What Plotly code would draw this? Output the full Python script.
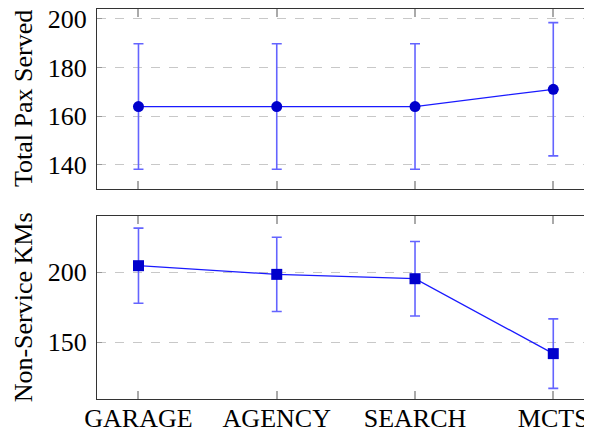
import plotly.graph_objects as go
from plotly.subplots import make_subplots

categories = ["GARAGE", "AGENCY", "SEARCH", "MCTS"]
pax_mean = [164.0, 164.0, 164.0, 171.1]
pax_err = [25.8, 25.8, 25.8, 27.4]
km_mean = [204.7, 198.5, 195.4, 141.9]
km_err = [26.8, 26.5, 26.6, 24.8]

# the page body has an 8px default margin, so the figure is laid out 8px smaller
W, H = 584, 427
L, R, T, B = 89, 0, 1, 36
PH = H - T - B

fig = make_subplots(rows=2, cols=1, shared_xaxes=True, vertical_spacing=0.068)

xs = list(range(len(categories)))
line_col = "#1a1aff"
mark_col = "#0000cc"
err_col = "#6464ff"

fig.add_trace(go.Scatter(
    x=xs, y=pax_mean, mode="lines+markers",
    line=dict(color=line_col, width=1.3),
    marker=dict(symbol="circle", size=11, color=mark_col),
    error_y=dict(type="data", array=pax_err, color=err_col, thickness=1.6, width=5),
    showlegend=False, cliponaxis=False), row=1, col=1)

fig.add_trace(go.Scatter(
    x=xs, y=km_mean, mode="lines+markers",
    line=dict(color=line_col, width=1.3),
    marker=dict(symbol="square", size=11, color=mark_col),
    error_y=dict(type="data", array=km_err, color=err_col, thickness=1.6, width=5),
    showlegend=False, cliponaxis=False), row=2, col=1)

font = dict(family="Liberation Serif, Times New Roman, serif", size=26, color="black")

xcommon = dict(range=[-0.3, 3.28], tickmode="array", tickvals=xs,
               showline=True, linecolor="#333333", linewidth=1.2, mirror="ticks",
               ticks="inside", ticklen=8, tickcolor="#aaaaaa", tickwidth=1.5,
               showgrid=False, zeroline=False, automargin=False)
fig.update_xaxes(**xcommon, row=1, col=1, ticktext=["" for _ in categories], showticklabels=False)
fig.update_xaxes(**xcommon, row=2, col=1, ticktext=categories, tickfont=font, ticklabelstandoff=-4)

ycommon = dict(showline=True, linecolor="#333333", linewidth=1.2, mirror="ticks",
               ticks="inside", ticklen=5, tickcolor="#999999", tickwidth=1,
               showgrid=True, gridcolor="#c8c8c8", griddash="dash", gridwidth=1,
               zeroline=False, tickfont=font, ticklabelstandoff=4, automargin=False,
               ticklabeloverflow="allow")
fig.update_yaxes(**ycommon, row=1, col=1, range=[130.1, 204.1], tickvals=[140, 160, 180, 200])
fig.update_yaxes(**ycommon, row=2, col=1, range=[109.5, 240.4], tickvals=[150, 200])

top_lo = (PH - 180) / PH
bot_hi = (PH - 206.7) / PH
fig.update_yaxes(domain=[top_lo, 1.0], row=1, col=1)
fig.update_yaxes(domain=[0.0, bot_hi], row=2, col=1)

plot_w = W - L - R
tx = (15 - L) / plot_w
fig.add_annotation(text="Total Pax Served", xref="paper", yref="paper",
                   x=tx, y=(1.0 + top_lo) / 2, textangle=-90, showarrow=False,
                   xanchor="center", yanchor="middle", font=font)
fig.add_annotation(text="Non-Service KMs", xref="paper", yref="paper",
                   x=tx, y=bot_hi / 2, textangle=-90, showarrow=False,
                   xanchor="center", yanchor="middle", font=font)

fig.update_layout(width=W, height=H, margin=dict(l=L, r=R, t=T, b=B, autoexpand=False),
                  plot_bgcolor="white", paper_bgcolor="white", font=font)

fig.write_html("out.html")
